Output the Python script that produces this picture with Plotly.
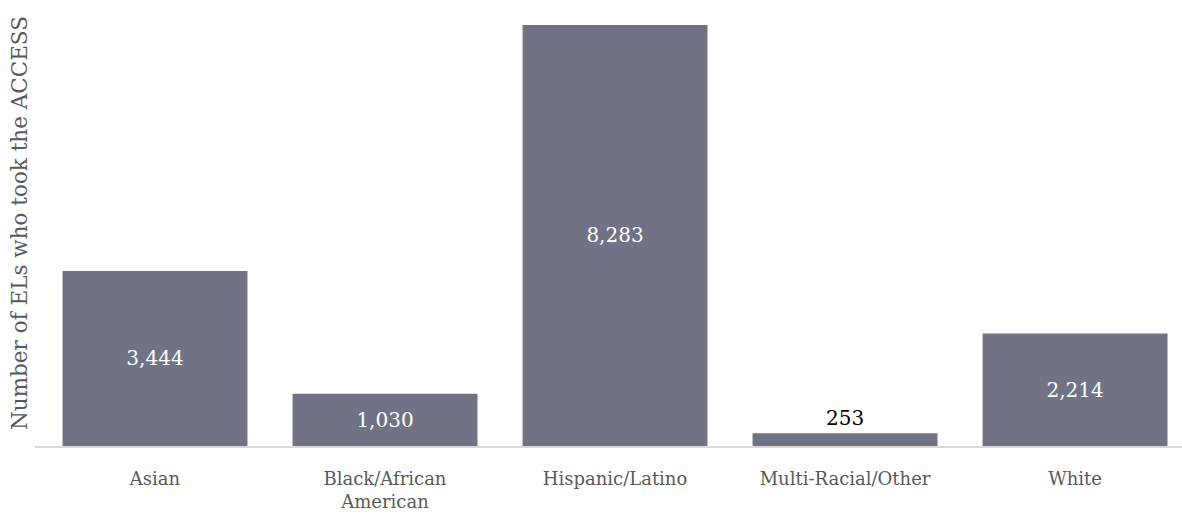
import plotly.graph_objects as go

categories = ["Asian", "Black/African<br>American", "Hispanic/Latino", "Multi-Racial/Other", "White"]
counts = [3444, 1030, 8283, 253, 2214]
label_positions = ["inside", "inside", "inside", "outside", "inside"]
label_colors = ["white", "white", "white", "black", "white"]

FONT = "DejaVu Serif"

fig = go.Figure(
    go.Bar(
        x=list(range(len(categories))),
        y=counts,
        marker=dict(color="#6f7385", line=dict(width=0)),
        text=[f"{v:,}" for v in counts],
        textposition=label_positions,
        insidetextanchor="middle",
        textfont=dict(family=FONT, size=20, color=label_colors),
        cliponaxis=False,
        width=0.804,
    )
)

fig.update_layout(
    width=1182,
    height=518,
    margin=dict(l=35, r=0, t=0, b=72),
    paper_bgcolor="white",
    plot_bgcolor="white",
    showlegend=False,
    font=dict(family=FONT, color="#595959"),
)

fig.update_xaxes(
    tickmode="array",
    tickvals=list(range(len(categories))),
    ticktext=categories,
    range=[-0.5217, 4.465],
    showline=True,
    linecolor="#d9d9d9",
    linewidth=2,
    ticks="",
    ticklabelstandoff=15,
    showgrid=False,
    zeroline=False,
    tickfont=dict(family=FONT, size=18, color="#595959"),
)

fig.update_yaxes(
    range=[0, 8774],
    showticklabels=False,
    showgrid=False,
    zeroline=False,
    showline=False,
    title=dict(
        text="Number of ELs who took the ACCESS",
        font=dict(family=FONT, size=21.5, color="#595959"),
        standoff=0,
    ),
)

fig.write_html("out.html")
